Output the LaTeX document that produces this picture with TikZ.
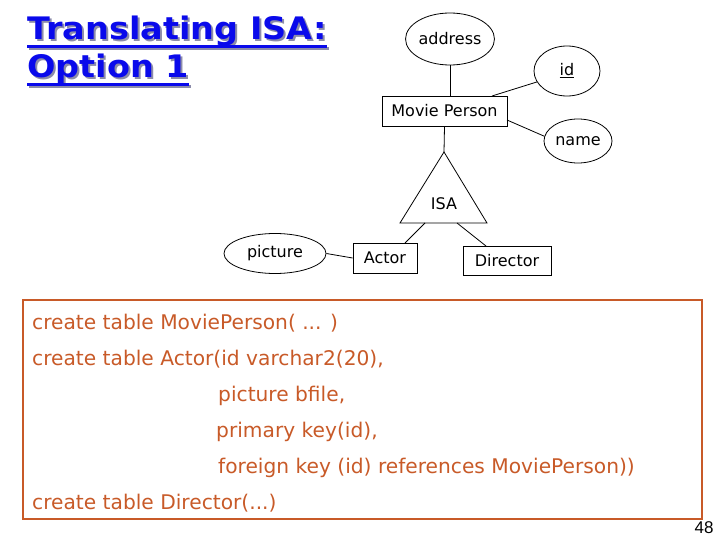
\documentclass[tikz,border=0pt]{standalone}
\usepackage{fontspec}
\setmainfont{DejaVu Sans}
\newfontfamily\erfont{DejaVu Sans}
\newfontfamily\titlefont[Ligatures={NoCommon,NoRequired},FakeStretch=1.08]{DejaVu Sans}
\newfontfamily\sqlfont{DejaVu Sans}
\newfontfamily\numfont{Liberation Sans}
\usetikzlibrary{shapes.geometric,calc}
\definecolor{titleblue}{RGB}{10,10,235}
\definecolor{titleshadow}{RGB}{140,140,170}
\definecolor{sqlorange}{RGB}{200,90,40}
\newcommand{\shadowtext}[1]{\makebox[0pt][l]{\hspace{2pt}\raisebox{-2pt}{\textcolor{titleshadow}{#1}}}\textcolor{titleblue}{#1}}
\tikzset{
  attr/.style={draw,ellipse,inner sep=0pt,line width=0.8pt,font=\erfont\fontsize{16}{18}\selectfont},
  entity/.style={draw,rectangle,inner sep=0pt,line width=0.8pt,font=\erfont\fontsize{16}{18}\selectfont},
  link/.style={line width=0.8pt},
  titletext/.style={anchor=base west,inner sep=0pt,font=\titlefont\bfseries\fontsize{31}{33}\selectfont},
  sqltext/.style={anchor=base west,inner sep=0pt,text=sqlorange,font=\sqlfont\fontsize{20.2}{22}\selectfont},
}
\begin{document}
\begin{tikzpicture}[x=1pt,y=-1pt]
\useasboundingbox (0,0) rectangle (720,540);
% title
\node[titletext] (t1) at (27,40) {\shadowtext{Translating ISA:}};
\node[titletext] (t2) at (27,78) {\shadowtext{Option 1}};
\draw[titleshadow,line width=3pt] ([xshift=2pt,yshift=-9pt]t1.base west) -- ([xshift=2pt,yshift=-9pt]t1.base east);
\draw[titleblue,line width=3pt] ([yshift=-7pt]t1.base west) -- ([yshift=-7pt]t1.base east);
\draw[titleshadow,line width=3pt] ([xshift=2pt,yshift=-9pt]t2.base west) -- ([xshift=2pt,yshift=-9pt]t2.base east);
\draw[titleblue,line width=3pt] ([yshift=-7pt]t2.base west) -- ([yshift=-7pt]t2.base east);
% ER nodes
\node[attr,minimum width=88pt,minimum height=52pt] (addr) at (450,39) {address};
\node[attr,minimum width=66pt,minimum height=50pt] (id) at (567,71) {\underline{id}};
\node[entity,minimum width=125pt,minimum height=30pt] (mp) at (444.5,111) {Movie Person};
\node[attr,minimum width=68pt,minimum height=44pt] (name) at (578,141) {name};
\node[attr,minimum width=102pt,minimum height=40pt] (pic) at (275,253.5) {picture};
\node[entity,minimum width=64pt,minimum height=30pt] (actor) at (385,258) {Actor};
\node[entity,minimum width=88pt,minimum height=29pt] (dir) at (507,260.5) {Director};
% ISA triangle
\coordinate (apex) at (444,152);
\coordinate (bl) at (400,223);
\coordinate (br) at (487,223);
\draw[link] (apex) -- (bl) -- (br) -- cycle;
\node[inner sep=0pt,font=\erfont\fontsize{16}{18}\selectfont] (isa) at (444,204) {ISA};
\coordinate (isaA) at (425,223);
\coordinate (isaD) at (457,223);
\coordinate (actA) at (405,243);
\coordinate (dirA) at (486,246);
\coordinate (mpId) at (492,96);
\coordinate (mpName) at (507,120);
% connectors
\draw[link] (addr.south) -- (mp.north -| addr.south);
\draw[link] (mpId) -- (id.200);
\draw[link] (mpName) -- (name.172);
\draw[link] (mp.south) -- (apex);
\draw[link] (isaA) -- (actA);
\draw[link] (isaD) -- (dirA);
\draw[link] (pic.east) -- (actor.west);
% SQL box
\draw[sqlorange,line width=2pt] (23,300) rectangle (702,519);
\node[sqltext] (s1) at (32,329) {create table MoviePerson( ... )};
\node[sqltext] (s2) at (32,365) {create table Actor(id varchar2(20),};
\node[sqltext] (s3) at (218,401) {picture bfile,};
\node[sqltext] (s4) at (216,437) {primary key(id),};
\node[sqltext] (s5) at (218,473) {foreign key (id) references MoviePerson))};
\node[sqltext] (s6) at (32,509) {create table Director(...)};
% page number
\node[inner sep=0pt,font=\numfont\fontsize{17}{19}\selectfont] (pg) at (704,528) {48};
\end{tikzpicture}
\end{document}
